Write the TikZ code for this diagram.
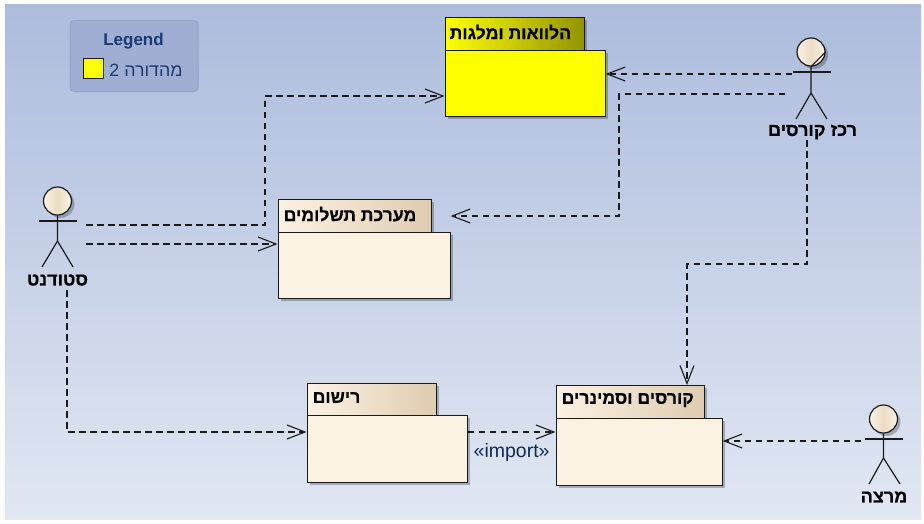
\documentclass[tikz,border=0pt]{standalone}
\usepackage{fontspec}
\setmainfont{Liberation Sans}
\newfontfamily\hebfont[Script=Hebrew,BoldFeatures={FakeBold=0.5}]{Liberation Sans}
\TeXXeTstate=1
\usetikzlibrary{arrows.meta,shadows}
\definecolor{bgtop}{HTML}{ADBCDD}
\definecolor{bgbot}{HTML}{E1E7F3}
\definecolor{legfill}{HTML}{A0AED3}
\definecolor{legline}{HTML}{94A3CB}
\definecolor{legtext}{HTML}{1B3A73}
\definecolor{cream}{HTML}{FCF2E3}
\definecolor{tan}{HTML}{DFCCB0}
\definecolor{headtan}{HTML}{EBDCC6}
\definecolor{olive}{HTML}{939300}
\definecolor{pureyellow}{RGB}{255,255,0}
\definecolor{ink}{HTML}{1A1A1A}
\tikzset{
  x=1pt,y=-1pt,
  softshadow/.style={general shadow={shadow xshift=3pt,shadow yshift=-3pt,fill=black,opacity=.25}},
  pkgbody/.style={draw=ink,line width=1.2pt,anchor=north west,inner sep=0pt,softshadow,fill=cream},
  pkgtab/.style={draw=ink,line width=1.2pt,anchor=north west,inner sep=0pt,softshadow,left color=cream,middle color=cream,right color=tan},
  pkglabel/.style={anchor=west,inner sep=0pt,yshift=1.5pt,font=\hebfont\bfseries\fontsize{17.6}{18}\selectfont,text=black},
  yellowbody/.style={pkgbody,fill=pureyellow},
  yellowtab/.style={pkgtab,left color=pureyellow,middle color=pureyellow,right color=olive},
  deparrow/.style={draw=ink,line width=1.1pt,dash pattern=on 6.5pt off 4.5pt,-{Straight Barb[length=18pt,width=14pt,line width=1.1pt]}},
  actorline/.style={draw=ink,line width=1.2pt},
  actorhead/.style={circle,draw=ink,line width=1.2pt,inner sep=0pt,minimum size=28pt,left color=cream,right color=cream,middle color=headtan,softshadow},
  actorlabel/.style={font=\hebfont\bfseries\fontsize{18}{18}\selectfont,text=black,inner sep=0pt},
}
\begin{document}
\begin{tikzpicture}
\useasboundingbox (0,0) rectangle (924,523);
\shade[top color=bgtop,bottom color=bgbot] (5,4) rectangle (921,519);
% legend
\node[draw=legline,fill=legfill,rounded corners=4pt,line width=1pt,anchor=north west,inner sep=0pt,minimum width=128pt,minimum height=71pt] (legend) at (69.5,20) {};
\node[font=\bfseries\fontsize{17}{17}\selectfont,text=legtext,inner sep=0pt] (legendtitle) at (133.5,41) {Legend};
\node[draw=ink,fill=pureyellow,line width=1.2pt,anchor=north west,inner sep=0pt,minimum width=20pt,minimum height=20pt] (legendkey) at (82.5,58) {};
\node[font=\hebfont\fontsize{17.8}{18}\selectfont,text=legtext,inner sep=0pt] (legendtext) at (146,70) {\beginR מהדורה 2\endR};
% packages
\node[yellowtab,minimum width=139pt,minimum height=33pt] (loanstab) at (444.5,16.5) {};
\node[yellowbody,minimum width=160pt,minimum height=66pt] (loans) at (444.5,49.5) {};
\node[pkglabel] (loanslabel) at ([xshift=5pt]loanstab.west) {\beginR הלוואות ומלגות\endR};
\node[pkgtab,minimum width=153pt,minimum height=33pt] (paytab) at (277.5,198.5) {};
\node[pkgbody,minimum width=172pt,minimum height=66pt] (pay) at (277.5,231.5) {};
\node[pkglabel] (paylabel) at ([xshift=6pt]paytab.west) {\beginR מערכת תשלומים\endR};
\node[pkgtab,minimum width=129pt,minimum height=32pt] (regtab) at (306.5,382.5) {};
\node[pkgbody,minimum width=160pt,minimum height=67pt] (reg) at (306.5,414.5) {};
\node[pkglabel] (reglabel) at ([xshift=6pt]regtab.west) {\beginR רישום\endR};
\node[pkgtab,minimum width=148pt,minimum height=33pt] (coursetab) at (555.5,384.5) {};
\node[pkgbody,minimum width=166pt,minimum height=67pt] (course) at (555.5,417.5) {};
\node[pkglabel] (courselabel) at ([xshift=6pt]coursetab.west) {\beginR קורסים וסמינרים\endR};
% student
\node[actorhead] (shead) at (57.5,201) {};
\draw[actorline] (39,221) -- (77,221);
\draw[actorline] (shead.south) -- (57.5,241) -- (42,267);
\draw[actorline] (57.5,241) -- (73,267);
\node[actorlabel] (slabel) at (57.5,280) {\beginR סטודנט\endR};
% coordinator
\node[actorhead] (chead) at (811,52) {};
\draw[actorline] (chead.south) -- (chead.east);
\draw[actorline] (793,72) -- (831,72);
\draw[actorline] (chead.south) -- (811,93) -- (796,119);
\draw[actorline] (811,93) -- (827,119);
\node[actorlabel] (clabel) at (812.5,132) {\beginR רכז קורסים\endR};
% lecturer
\node[actorhead] (lhead) at (883.5,419) {};
\draw[actorline] (865,439) -- (903,439);
\draw[actorline] (lhead.south) -- (883.5,458) -- (869,484);
\draw[actorline] (883.5,458) -- (900,484);
\node[actorlabel] (llabel) at (884,497) {\beginR מרצה\endR};
% free ends of connectors
\coordinate (s1) at (86,225);
\coordinate (s2) at (86,244);
\coordinate (s3) at (67,290);
\coordinate (c1) at (792,74);
\coordinate (c2) at (785,94);
\coordinate (c3) at (807,140);
\coordinate (l1) at (861,441);
% connectors
\draw[deparrow] (s1) -- (265,225) -- (265,96) -- (loans.west |- 0,96);
\draw[deparrow] (s2) -- (pay.west |- s2);
\draw[deparrow] (s3) -- (67,432) -- (reg.west |- 0,432);
\draw[deparrow] (reg.east |- 0,432) -- (course.west |- 0,432) node[pos=.5,yshift=-20pt,font=\fontsize{19.5}{20}\selectfont,text=legtext!70!black,inner sep=0pt] (importlabel) {«import»};
\draw[deparrow] (c1) -- (loans.east |- c1);
\draw[deparrow] (c2) -- (619,94) -- (619,216) -- (pay.east |- 0,216);
\draw[deparrow] (c3) -- (807,264) -- (687,264) -- (687,385);
\draw[deparrow] (l1) -- (course.east |- l1);
\end{tikzpicture}
\end{document}
